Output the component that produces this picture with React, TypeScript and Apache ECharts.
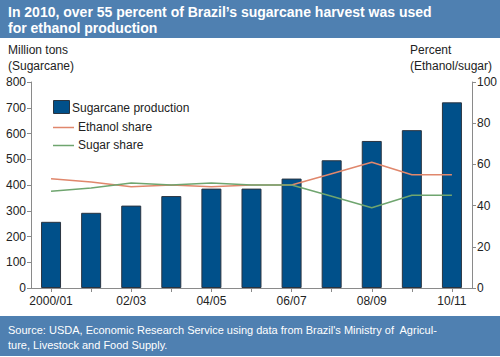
import React, { useEffect, useRef } from "react";
import * as echarts from "echarts";

const categories = ["2000/01", "01/02", "02/03", "03/04", "04/05", "05/06", "06/07", "07/08", "08/09", "09/10", "10/11"];
const sugarcane = [257, 292, 320, 357, 386, 386, 425, 496, 571, 613, 721];
const ethanolShare = [53, 51.5, 49.2, 50, 49.2, 50, 50, 55.5, 61, 55, 55];
const sugarShare = [47, 48.5, 51, 50, 51, 50, 50, 44.5, 39, 45, 45];
const leftTicks = { min: 0, max: 800, interval: 100 };
const rightTicks = { min: 0, max: 100, interval: 20 };
const seriesNames = ["Sugarcane production", "Ethanol share", "Sugar share"];

const FONT = "'Liberation Sans', Arial, Helvetica, sans-serif";
const BANNER = "#4f80b1";
const BAR = "#00508a";
const ETH = "#e0876c";
const SUG = "#6fa56f";

export default function App() {
  const ref = useRef<HTMLDivElement>(null);
  useEffect(() => {
    if (!ref.current) return;
    const chart = echarts.init(ref.current, null, { renderer: "svg" });
    const axisLine = { show: true, lineStyle: { color: "#8a8a8a", width: 1 } };
    const axisTick = { show: true, length: 4, lineStyle: { color: "#8a8a8a" } };
    const axisLabel = { color: "#222", fontSize: 12, fontFamily: FONT };
    chart.setOption({
      animation: false,
      backgroundColor: "#fff",
      textStyle: { fontFamily: FONT },
      grid: { left: 31, right: 28, top: 82, bottom: 69, containLabel: false },
      xAxis: {
        type: "category",
        data: categories,
        boundaryGap: true,
        axisLine,
        axisTick: { ...axisTick, alignWithLabel: true, interval: 0 },
        axisLabel: { ...axisLabel, interval: 1, margin: 7 },
      },
      yAxis: [
        {
          type: "value",
          ...leftTicks,
          axisLine,
          axisTick,
          splitLine: { show: false },
          axisLabel: { ...axisLabel, margin: 5 },
        },
        {
          type: "value",
          position: "right",
          ...rightTicks,
          axisLine,
          axisTick,
          splitLine: { show: false },
          axisLabel: { ...axisLabel, margin: 5 },
        },
      ],
      series: [
        {
          name: seriesNames[0],
          type: "bar",
          data: sugarcane,
          barWidth: 20,
          itemStyle: { color: BAR, borderColor: "#2a3440", borderWidth: 1 },
        },
        {
          name: seriesNames[1],
          type: "line",
          yAxisIndex: 1,
          data: ethanolShare,
          symbol: "none",
          lineStyle: { color: ETH, width: 1.5 },
        },
        {
          name: seriesNames[2],
          type: "line",
          yAxisIndex: 1,
          data: sugarShare,
          symbol: "none",
          lineStyle: { color: SUG, width: 1.5 },
        },
      ],
      graphic: [
        { type: "rect", left: 0, top: 0, shape: { width: 500, height: 38 }, style: { fill: BANNER } },
        {
          type: "text",
          left: 8,
          top: 4,
          style: {
            text: "In 2010, over 55 percent of Brazil\u2019s sugarcane harvest was used\nfor ethanol production",
            fill: "#fff",
            font: `bold 14px ${FONT}`,
            lineHeight: 16,
          },
        },
        {
          type: "text",
          left: 8,
          top: 42,
          style: { text: "Million tons\n(Sugarcane)", fill: "#222", font: `12px ${FONT}`, lineHeight: 16 },
        },
        {
          type: "text",
          right: 8,
          top: 42,
          style: { text: "Percent\n(Ethanol/sugar)", fill: "#222", font: `12px ${FONT}`, lineHeight: 16, align: "right" },
        },
        // legend
        {
          type: "rect",
          shape: { x: 53.5, y: 100.5, width: 16, height: 13 },
          style: { fill: BAR, stroke: "#2a3440", lineWidth: 1 },
        },
        {
          type: "text",
          x: 72,
          y: 108,
          style: { text: seriesNames[0], fill: "#222", font: `12px ${FONT}`, verticalAlign: "middle" },
        },
        {
          type: "line",
          shape: { x1: 53, y1: 127.5, x2: 74, y2: 127.5 },
          style: { stroke: ETH, lineWidth: 1.5 },
        },
        {
          type: "text",
          x: 78,
          y: 127,
          style: { text: seriesNames[1], fill: "#222", font: `12px ${FONT}`, verticalAlign: "middle" },
        },
        {
          type: "line",
          shape: { x1: 53, y1: 145.5, x2: 74, y2: 145.5 },
          style: { stroke: SUG, lineWidth: 1.5 },
        },
        {
          type: "text",
          x: 78,
          y: 145,
          style: { text: seriesNames[2], fill: "#222", font: `12px ${FONT}`, verticalAlign: "middle" },
        },
        { type: "rect", left: 0, top: 316, shape: { width: 500, height: 40 }, style: { fill: BANNER } },
        {
          type: "text",
          left: 8,
          top: 322,
          style: {
            text: "Source: USDA, Economic Research Service using data from Brazil's Ministry of  Agricul-\nture, Livestock and Food Supply.",
            fill: "#fff",
            font: `11px ${FONT}`,
            lineHeight: 15,
          },
        },
      ],
    });
    return () => chart.dispose();
  }, []);
  return <div ref={ref} style={{ position: "absolute", left: 0, top: 0, width: 500, height: 357 }} />;
}
